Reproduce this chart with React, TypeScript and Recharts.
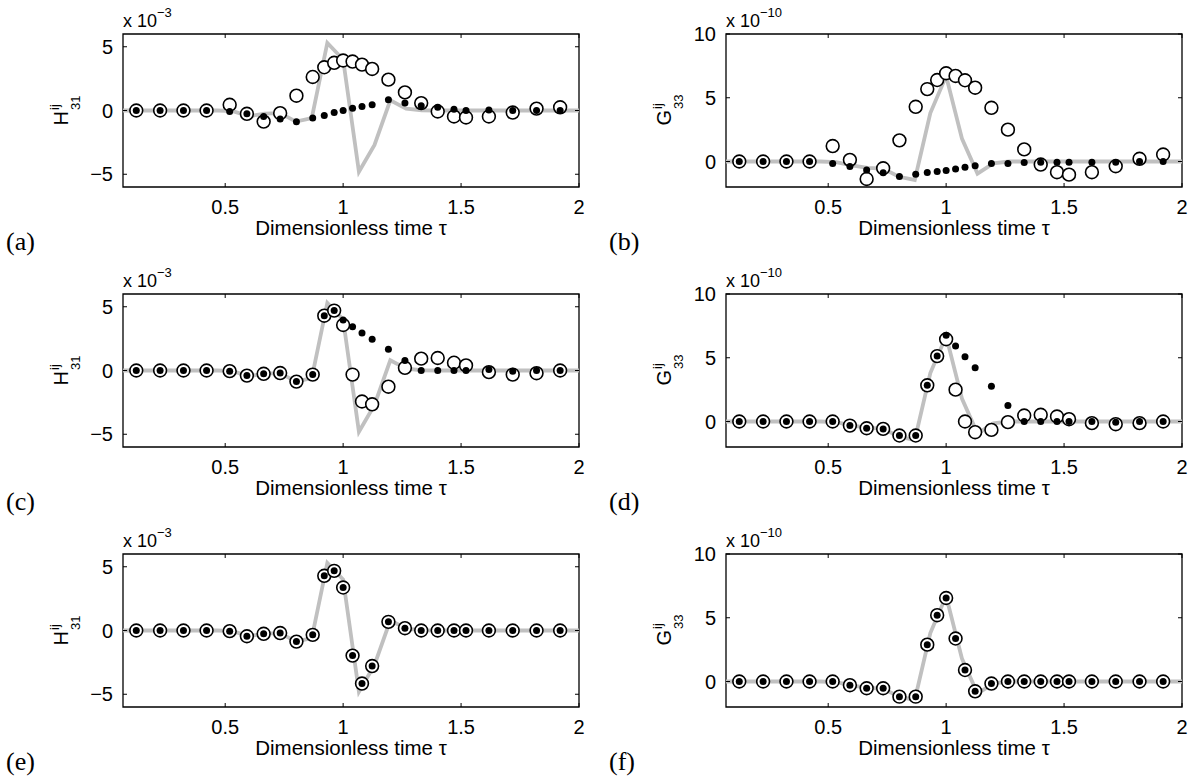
import { ComposedChart, Line, ReferenceArea, Scatter, XAxis, YAxis } from "recharts";

// time axis for the markers (same in every panel)
const markerTimes = [
  0.123, 0.224, 0.323, 0.421, 0.519, 0.592, 0.663, 0.733, 0.802, 0.871, 0.92, 0.962, 1.0,
  1.04, 1.08, 1.123, 1.192, 1.262, 1.331, 1.401, 1.47, 1.521, 1.618, 1.719, 1.82, 1.92,
];

// time axis for the grey reference curve
const exactTimes = [
  0.0667, 0.133, 0.2, 0.267, 0.333, 0.4, 0.467, 0.533, 0.6, 0.667, 0.733, 0.8, 0.867, 0.933, 1.0,
  1.067, 1.133, 1.2, 1.267, 1.333, 1.4, 1.467, 1.533, 1.6, 1.667, 1.733, 1.8, 1.867, 1.933, 2.0,
];

// H31 (x 1e-3)
const exactH = [
  0, 0, 0, 0, 0, 0, 0, -0.05, -0.45, -0.25, -0.2, -0.87, -0.6, 5.3, 4.0,
  -4.8, -2.7, 0.8, 0.15, 0.02, 0, 0, 0, 0, 0, 0, 0, 0, 0, 0,
];
// G33 (x 1e-10)
const exactG = [
  0, 0, 0, 0, 0, 0, 0, -0.05, -0.3, -0.5, -0.55, -1.2, -1.45, 3.8, 6.7,
  1.8, -0.95, -0.15, 0, 0, 0, 0, 0, 0, 0, 0, 0, 0, 0, 0,
];

const circlesA = [0, 0, 0, 0, 0.45, -0.26, -0.87, -0.21, 1.16, 2.63, 3.39, 3.74, 3.92, 3.84, 3.6, 3.26, 2.42, 1.42, 0.58, -0.08, -0.47, -0.55, -0.47, -0.16, 0.15, 0.25];
const dotsA = [0, 0, 0, 0, -0.08, -0.26, -0.47, -0.66, -0.89, -0.58, -0.39, -0.16, 0, 0.18, 0.32, 0.45, 0.84, 0.58, 0.37, 0.26, 0.1, 0, 0.03, 0, 0, 0];

const circlesB = [0, 0, 0, 0, 1.21, 0.13, -1.37, -0.53, 1.66, 4.29, 5.68, 6.39, 6.92, 6.71, 6.37, 5.79, 4.21, 2.5, 0.95, -0.24, -0.84, -1.03, -0.84, -0.37, 0.21, 0.55];
const dotsB = [0, 0, 0, 0, -0.16, -0.39, -0.66, -0.89, -1.18, -1.0, -0.87, -0.79, -0.71, -0.58, -0.45, -0.34, -0.16, -0.16, -0.08, -0.05, -0.05, -0.05, -0.05, -0.05, 0, 0];

const circlesC = [0, 0, 0, 0, -0.05, -0.4, -0.26, -0.2, -0.87, -0.32, 4.3, 4.7, 3.57, -0.32, -2.43, -2.65, -1.27, 0.21, 0.93, 0.98, 0.61, 0.4, -0.13, -0.32, -0.21, 0];
const dotsC = [0, 0, 0, 0, -0.05, -0.4, -0.26, -0.2, -0.87, -0.32, 4.3, 4.7, 3.97, 3.44, 2.94, 2.46, 1.67, 0.79, 0, 0, 0, 0, 0.08, -0.05, 0, 0];

const circlesD = [0, 0, 0, 0, 0, -0.32, -0.53, -0.58, -1.1, -1.1, 2.84, 5.13, 6.45, 2.5, 0, -0.84, -0.66, -0.05, 0.47, 0.53, 0.39, 0.18, -0.13, -0.21, -0.13, 0];
const dotsD = [0, 0, 0, 0, 0, -0.32, -0.53, -0.58, -1.1, -1.1, 2.84, 5.13, 6.76, 5.92, 5.08, 4.21, 2.76, 1.26, 0, 0, 0, 0, 0, -0.05, 0, 0];

const markersE = [0, 0, 0, 0, -0.05, -0.45, -0.26, -0.2, -0.87, -0.34, 4.29, 4.68, 3.37, -1.97, -4.16, -2.79, 0.68, 0.18, 0, 0, 0, 0, 0, 0, 0, 0];
const markersF = [0, 0, 0, 0, 0, -0.29, -0.53, -0.53, -1.19, -1.19, 2.89, 5.2, 6.55, 3.37, 0.9, -0.77, -0.16, 0, 0, 0, 0, 0, 0, 0, 0, 0];

const timeTicks = [0.5, 1, 1.5, 2];
const hTicks = [-5, 0, 5];
const gTicks = [0, 5, 10];

const SANS = '"Liberation Sans", Arial, Helvetica, sans-serif';
const SERIF = '"Liberation Serif", "DejaVu Serif", serif';
const CHART_W = 600;
const CHART_H = 260;
const MARGIN = { top: 34, right: 21, bottom: 0, left: 0 };
const Y_AXIS_W = 123;
const X_AXIS_H = 73;
const PLOT_W = CHART_W - MARGIN.right - Y_AXIS_W;
const PLOT_H = CHART_H - MARGIN.top - X_AXIS_H;
const TICK = 4;

type Kind = "H" | "G";

interface PanelSpec {
  letter: string;
  col: number;
  row: number;
  kind: Kind;
  circles: number[];
  dots: number[];
}

const panels: PanelSpec[] = [
  { letter: "a", col: 0, row: 0, kind: "H", circles: circlesA, dots: dotsA },
  { letter: "b", col: 1, row: 0, kind: "G", circles: circlesB, dots: dotsB },
  { letter: "c", col: 0, row: 1, kind: "H", circles: circlesC, dots: dotsC },
  { letter: "d", col: 1, row: 1, kind: "G", circles: circlesD, dots: dotsD },
  { letter: "e", col: 0, row: 2, kind: "H", circles: markersE, dots: markersE },
  { letter: "f", col: 1, row: 2, kind: "G", circles: markersF, dots: markersF },
];

function fmt(v: number) {
  return v < 0 ? `\u2212${Math.abs(v)}` : `${v}`;
}

function toPoints(times: number[], values: number[]) {
  return times.map((t, i) => ({ t, v: values[i] }));
}

function XTick(props: any) {
  const { x, y, payload } = props;
  return (
    <g>
      <line x1={x} x2={x} y1={y} y2={y - TICK} stroke="#000" />
      <line x1={x} x2={x} y1={y - PLOT_H} y2={y - PLOT_H + TICK} stroke="#000" />
      <text x={x} y={y + 26.5} textAnchor="middle" fontSize={20} fontFamily={SANS} fill="#000">
        {fmt(payload.value)}
      </text>
    </g>
  );
}

function YTick(props: any) {
  const { x, y, payload } = props;
  return (
    <g>
      <line x1={x} x2={x + TICK} y1={y} y2={y} stroke="#000" />
      <line x1={x + PLOT_W - TICK} x2={x + PLOT_W} y1={y} y2={y} stroke="#000" />
      <text x={x - 10} y={y + 7} textAnchor="end" fontSize={20} fontFamily={SANS} fill="#000">
        {fmt(payload.value)}
      </text>
    </g>
  );
}

function OpenCircle(props: any) {
  return <circle cx={props.cx} cy={props.cy} r={6.4} fill="#fff" stroke="#000" strokeWidth={1.6} />;
}

function SolidDot(props: any) {
  return <circle cx={props.cx} cy={props.cy} r={3.5} fill="#000" />;
}

function Panel({ spec }: { spec: PanelSpec }) {
  const isH = spec.kind === "H";
  const yDomain = isH ? [-6, 6] : [-2, 10];
  const exact = toPoints(exactTimes, isH ? exactH : exactG);
  const circleData = toPoints(markerTimes, spec.circles);
  const dotData = toPoints(markerTimes, spec.dots);
  const plotLeft = MARGIN.left + Y_AXIS_W;
  const plotTop = MARGIN.top;

  return (
    <div
      style={{
        position: "absolute",
        left: spec.col * 603,
        top: spec.row * 260,
        width: CHART_W,
        height: CHART_H,
      }}
    >
      <ComposedChart width={CHART_W} height={CHART_H} margin={MARGIN}>
        <XAxis
          type="number"
          dataKey="t"
          domain={[0.0667, 2]}
          allowDataOverflow
          ticks={timeTicks}
          interval={0}
          height={X_AXIS_H}
          tickSize={0}
          tickMargin={0}
          axisLine={false}
          tickLine={false}
          tick={(p: any) => <XTick {...p} />}
        />
        <YAxis
          type="number"
          dataKey="v"
          domain={yDomain}
          allowDataOverflow
          ticks={isH ? hTicks : gTicks}
          interval={0}
          width={Y_AXIS_W}
          tickSize={0}
          tickMargin={0}
          axisLine={false}
          tickLine={false}
          tick={(p: any) => <YTick {...p} />}
        />
        <ReferenceArea
          x1={0.0667}
          x2={2}
          y1={yDomain[0]}
          y2={yDomain[1]}
          fill="none"
          stroke="#000"
          strokeWidth={1.3}
          ifOverflow="visible"
        />
        <Line
          data={exact}
          dataKey="v"
          stroke="#c0c0c0"
          strokeWidth={3.8}
          dot={false}
          activeDot={false}
          isAnimationActive={false}
        />
        <Scatter data={circleData} dataKey="v" shape={OpenCircle} isAnimationActive={false} />
        <Scatter data={dotData} dataKey="v" shape={SolidDot} isAnimationActive={false} />
      </ComposedChart>

      <svg
        width={CHART_W}
        height={CHART_H}
        style={{ position: "absolute", left: 0, top: 0, pointerEvents: "none" }}
      >
        <text x={plotLeft} y={plotTop - 7} fontSize={18} fontFamily={SANS} fill="#000">
          x 10
          <tspan fontSize={13} dy={-10}>
            {isH ? "\u22123" : "\u221210"}
          </tspan>
        </text>
        <g transform={`translate(68, ${plotTop + PLOT_H / 2 + 15}) rotate(-90)`}>
          <text x={0} y={0} fontSize={20} fontFamily={SANS} fill="#000">
            {isH ? "H" : "G"}
          </text>
          <text x={isH ? 15.5 : 16.5} y={-9.5} fontSize={13} fontFamily={SANS} fill="#000">
            ij
          </text>
          <text x={isH ? 15.5 : 16.5} y={12} fontSize={13} fontFamily={SANS} fill="#000">
            {isH ? "31" : "33"}
          </text>
        </g>
        <text
          x={plotLeft + PLOT_W / 2}
          y={plotTop + PLOT_H + 48}
          textAnchor="middle"
          fontSize={20.5}
          fontFamily={SANS}
          fill="#000"
        >
          Dimensionless time τ
        </text>
        <text x={6} y={250} fontSize={26} fontFamily={SERIF} fill="#000">
          ({spec.letter})
        </text>
      </svg>
    </div>
  );
}

export default function App() {
  return (
    <div
      style={{
        position: "absolute",
        left: 0,
        top: 0,
        width: 1202,
        height: 780,
        background: "#fff",
        overflow: "hidden",
      }}
    >
      {panels.map((p) => (
        <Panel key={p.letter} spec={p} />
      ))}
    </div>
  );
}
